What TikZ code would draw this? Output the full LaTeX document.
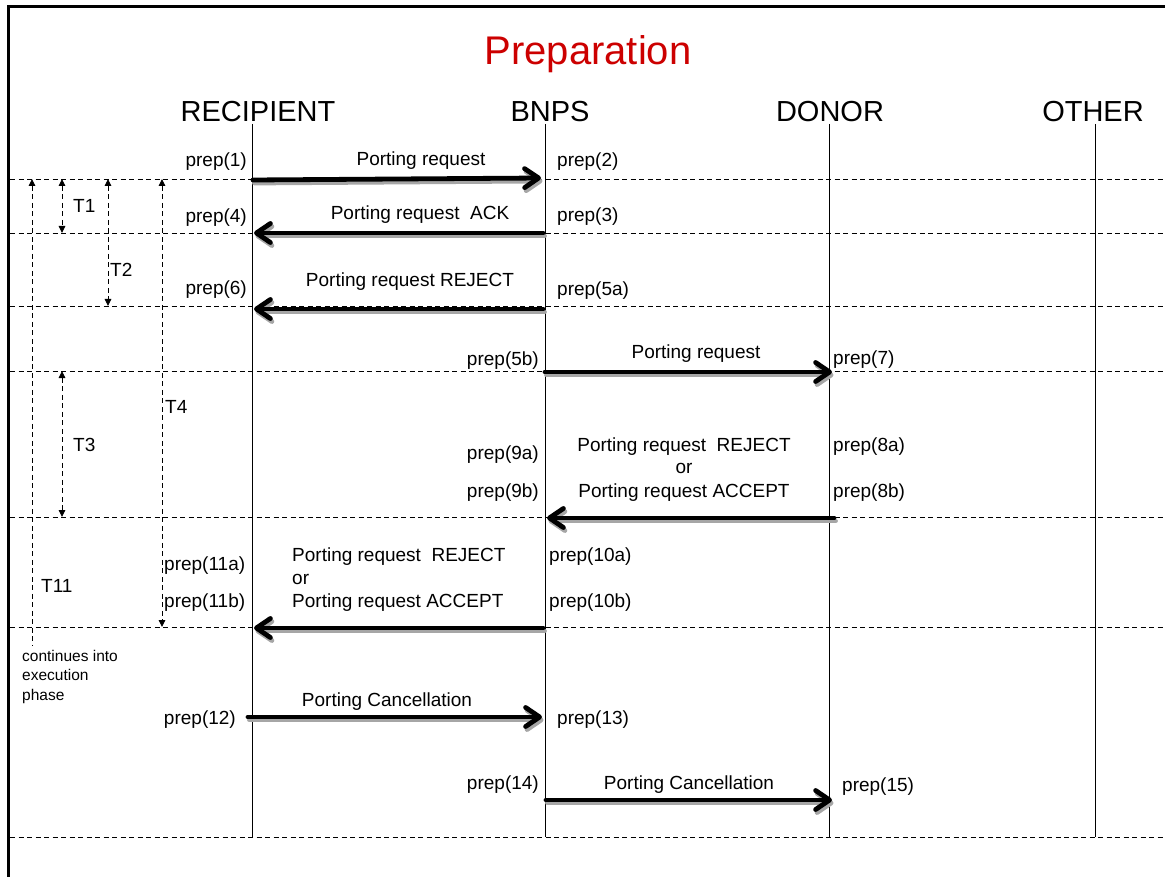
\documentclass[tikz,border=0pt]{standalone}
\usepackage{fontspec}
\setmainfont{Liberation Sans}
\usetikzlibrary{arrows.meta}
\definecolor{titlered}{RGB}{204,0,0}
\begin{document}
\begin{tikzpicture}[x=1pt,y=-1pt,
  txt/.style={inner sep=0pt, font=\fontsize{19}{22}\selectfont},
  note/.style={inner sep=0pt, align=left, font=\fontsize{15.5}{19.5}\selectfont},
  hdr/.style={inner sep=0pt, anchor=base, font=\fontsize{29}{32}\selectfont},
  frame/.style={line width=2.8pt},
  life/.style={line width=0.9pt},
  sep/.style={line width=0.9pt, dash pattern=on 5pt off 3.5pt},
  tmr/.style={line width=0.9pt, dash pattern=on 5pt off 3.5pt},
  both/.style={tmr, {Triangle[length=7pt,width=6.5pt]}-{Triangle[length=7pt,width=6.5pt]}},
  up/.style={tmr, {Triangle[length=7pt,width=6.5pt]}-},
  msgline/.style={line width=4.8pt, line cap=round,
    -{Straight Barb[length=14pt,width=19pt,round]}},
  msg/.style={msgline, draw=black},
  msgshadow/.style={msgline, draw=black!35},
]
\useasboundingbox (0,0) rectangle (1165,877);

% frame
\coordinate (fTL) at (8.5,6.2);
\coordinate (fTR) at (1166,6.2);
\coordinate (fBL) at (8.5,878);
\draw[frame] (fBL) -- (fTL) -- (fTR);

% title and participants
\node[inner sep=0pt, anchor=base, text=titlered, font=\fontsize{40}{44}\selectfont] (title) at (588,65) {Preparation};
\node[hdr] (hR) at (258,122) {RECIPIENT};
\node[hdr] (hB) at (550,122) {BNPS};
\node[hdr] (hD) at (830,122) {DONOR};
\node[hdr] (hO) at (1093,122) {OTHER};

% lifelines
\foreach \n/\x in {R/252, B/545, D/829, O/1095}{
  \coordinate (\n top) at (\x,124);
  \coordinate (\n bot) at (\x,837);
  \draw[life] (\n top) -- (\n bot);
}

% phase separators
\foreach \i/\y in {1/179, 2/233, 3/306, 4/371, 5/517, 6/627, 7/837}{
  \coordinate (s\i l) at (10,\y);
  \coordinate (s\i r) at (1166,\y);
  \draw[sep] (s\i l) -- (s\i r);
}

% timers
\coordinate (t11a) at (32,179);  \coordinate (t11b) at (32,646);
\coordinate (t1a)  at (62,179);  \coordinate (t1b)  at (62,233);
\coordinate (t2a)  at (108,179); \coordinate (t2b)  at (108,306);
\coordinate (t4a)  at (162,179); \coordinate (t4b)  at (162,627);
\coordinate (t3a)  at (62,371);  \coordinate (t3b)  at (62,517);
\draw[up]   (t11a) -- (t11b);
\draw[both] (t1a) -- (t1b);
\draw[both] (t2a) -- (t2b);
\draw[both] (t4a) -- (t4b);
\draw[both] (t3a) -- (t3b);

\node[txt, anchor=base west] (T1)  at (73,213)  {T1};
\node[txt, anchor=base west] (T2)  at (110,277) {T2};
\node[txt, anchor=base west] (T3)  at (73,451)  {T3};
\node[txt, anchor=base west] (T4)  at (165,413) {T4};
\node[txt, anchor=base west] (T11) at (41,592)  {T11};
\node[note, anchor=north west] (cont) at (22,650) {continues into\\execution\\phase};

% message endpoints
\coordinate (m1a) at (253,180); \coordinate (m1b) at (541,178);
\coordinate (m2a) at (543,233); \coordinate (m2b) at (254,233);
\coordinate (m3a) at (543,309); \coordinate (m3b) at (254,309);
\coordinate (m4a) at (545,372); \coordinate (m4b) at (832,372);
\coordinate (m5a) at (834,518); \coordinate (m5b) at (547,518);
\coordinate (m6a) at (543,628); \coordinate (m6b) at (254,628);
\coordinate (m7a) at (248,717); \coordinate (m7b) at (542,717);
\coordinate (m8a) at (546,800); \coordinate (m8b) at (832,800);

% soft drop shadow under the message arrows
\begin{scope}[transform canvas={xshift=1.5pt,yshift=-3pt}]
  \foreach \m in {1,...,8}{ \draw[msgshadow] (m\m a) -- (m\m b); }
\end{scope}
\foreach \m in {1,...,8}{ \draw[msg] (m\m a) -- (m\m b); }

% message 1
\node[txt, anchor=base] (l1) at (421,166) {Porting request};
\node[txt, anchor=base east] (p1) at (247,167) {prep(1)};
\node[txt, anchor=base west] (p2) at (557,167) {prep(2)};
% message 2
\node[txt, anchor=base] (l2) at (420,220) {Porting request\ \ ACK};
\node[txt, anchor=base east] (p4) at (247,223) {prep(4)};
\node[txt, anchor=base west] (p3) at (557,222) {prep(3)};
% message 3
\node[txt, anchor=base] (l3) at (410,287) {Porting request REJECT};
\node[txt, anchor=base east] (p6) at (247,295) {prep(6)};
\node[txt, anchor=base west] (p5a) at (557,296) {prep(5a)};
% message 4
\node[txt, anchor=base] (l4) at (696,359) {Porting request};
\node[txt, anchor=base east] (p5b) at (539,366) {prep(5b)};
\node[txt, anchor=base west] (p7) at (833,365) {prep(7)};
% message 5
\node[txt, anchor=base] (l5a) at (684,451) {Porting request\ \ REJECT};
\node[txt, anchor=base] (l5b) at (684,473) {or};
\node[txt, anchor=base] (l5c) at (684,497) {Porting request ACCEPT};
\node[txt, anchor=base east] (p9a) at (539,459) {prep(9a)};
\node[txt, anchor=base east] (p9b) at (539,497) {prep(9b)};
\node[txt, anchor=base west] (p8a) at (833,451) {prep(8a)};
\node[txt, anchor=base west] (p8b) at (833,497) {prep(8b)};
% message 6
\node[txt, anchor=base west] (l6a) at (292,561) {Porting request\ \ REJECT};
\node[txt, anchor=base west] (l6b) at (292,584) {or};
\node[txt, anchor=base west] (l6c) at (292,607) {Porting request ACCEPT};
\node[txt, anchor=base west] (p10a) at (549,561) {prep(10a)};
\node[txt, anchor=base west] (p10b) at (549,607) {prep(10b)};
\node[txt, anchor=base west] (p11a) at (164,570) {prep(11a)};
\node[txt, anchor=base west] (p11b) at (164,607) {prep(11b)};
% message 7
\node[txt, anchor=base] (l7) at (387,706) {Porting Cancellation};
\node[txt, anchor=base east] (p12) at (236,724) {prep(12)};
\node[txt, anchor=base west] (p13) at (557,724) {prep(13)};
% message 8
\node[txt, anchor=base] (l8) at (689,789) {Porting Cancellation};
\node[txt, anchor=base east] (p14) at (539,789) {prep(14)};
\node[txt, anchor=base west] (p15) at (842,791) {prep(15)};
\end{tikzpicture}
\end{document}
